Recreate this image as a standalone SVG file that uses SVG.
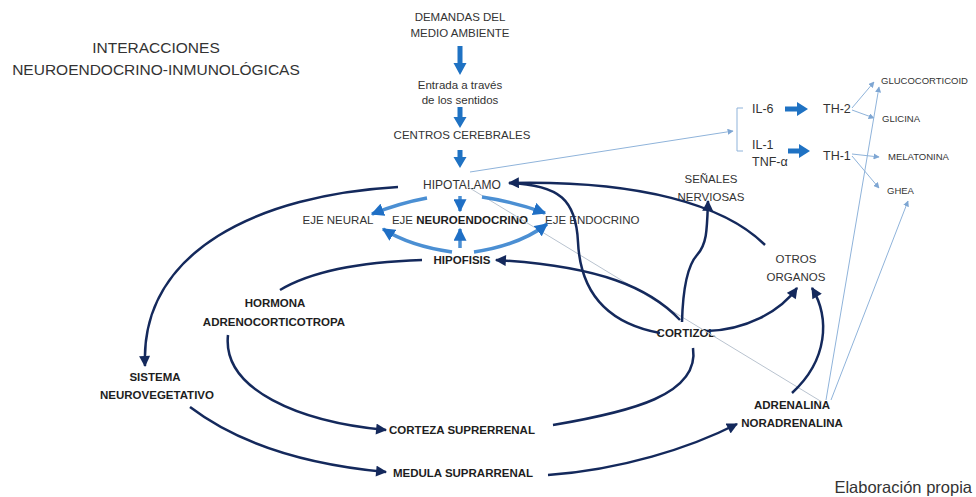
<svg xmlns="http://www.w3.org/2000/svg" width="976" height="497" viewBox="0 0 976 497">
<style>
text{font-family:"Liberation Sans",Arial,sans-serif;fill:#333;font-size:11.5px}
.c{text-anchor:middle}
.b{font-weight:bold;fill:#1e1e1e}
.title{font-size:15.5px;fill:#333}
.sm{font-size:9.5px}
.il{font-size:12.5px}
.navy{fill:none;stroke:#14295c;stroke-width:2.5}
.lblue{fill:none;stroke:#4b8fd3;stroke-width:3.5}
.thin{fill:none;stroke:#8fb3da;stroke-width:1}
.gray{fill:none;stroke:#b9c3cf;stroke-width:1}
.big{fill:#1f72c3}
</style>
<defs>
<marker id="mNavy" viewBox="0 0 10 10" refX="9" refY="5" markerWidth="12" markerHeight="11" markerUnits="userSpaceOnUse" orient="auto"><path d="M0,0 L10,5 L0,10 z" fill="#14295c"/></marker>
<marker id="mBlue" viewBox="0 0 10 10" refX="9" refY="5" markerWidth="13" markerHeight="13" markerUnits="userSpaceOnUse" orient="auto"><path d="M0,0 L10,5 L0,10 z" fill="#1f6fc5"/></marker>
<marker id="mThin" viewBox="0 0 10 10" refX="9" refY="5" markerWidth="6" markerHeight="6" markerUnits="userSpaceOnUse" orient="auto"><path d="M0,0 L10,5 L0,10 z" fill="#7ea6d3"/></marker>
</defs>
<rect width="976" height="497" fill="#fff"/>

<g id="title">
<text class="c title" x="156" y="53">INTERACCIONES</text>
<text class="c title" x="156" y="75">NEUROENDOCRINO-INMUNOLÓGICAS</text>
</g>
<g id="demandas"><text class="c" x="460" y="21">DEMANDAS DEL</text><text class="c" x="460" y="37">MEDIO AMBIENTE</text></g>
<g id="entrada"><text class="c" x="460" y="89">Entrada a través</text><text class="c" x="460" y="104">de los sentidos</text></g>
<g id="centros"><text class="c" x="462" y="139">CENTROS CEREBRALES</text></g>
<g id="hipotalamo"><text class="c" x="462" y="189" style="font-size:12px">HIPOTALAMO</text></g>
<g id="eje-neural"><text class="c" x="338" y="224">EJE NEURAL</text></g>
<g id="eje-neuroendocrino"><text class="c" x="460" y="224">EJE <tspan class="b">NEUROENDOCRINO</tspan></text></g>
<g id="eje-endocrino"><text x="545" y="224">EJE ENDOCRINO</text></g>
<g id="hipofisis"><text class="c b" x="462" y="264">HIPOFISIS</text></g>
<g id="senales"><text class="c" x="711" y="183">SEÑALES</text><text class="c" x="711" y="201">NERVIOSAS</text></g>
<g id="otros"><text class="c" x="796" y="263">OTROS</text><text class="c" x="796" y="281">ORGANOS</text></g>
<g id="cortizol"><text class="c b" x="686" y="337">CORTIZOL</text></g>
<g id="hormona"><text class="c b" x="275" y="307">HORMONA</text><text class="c b" x="274" y="326">ADRENOCORTICOTROPA</text></g>
<g id="sistema"><text class="c b" x="155" y="381">SISTEMA</text><text class="c b" x="157" y="399">NEUROVEGETATIVO</text></g>
<g id="corteza"><text class="c b" x="462" y="434">CORTEZA SUPRERRENAL</text></g>
<g id="medula"><text class="c b" x="463" y="477">MEDULA SUPRARRENAL</text></g>
<g id="adrenalina"><text class="c b" x="792" y="409">ADRENALINA</text><text class="c b" x="792" y="427">NORADRENALINA</text></g>
<g id="il6"><text class="il" x="752" y="113">IL-6</text></g>
<g id="il1"><text class="il" x="752" y="149">IL-1</text><text class="il" x="752" y="166">TNF-α</text></g>
<g id="th2"><text class="il" x="823" y="113">TH-2</text></g>
<g id="th1"><text class="il" x="823" y="160">TH-1</text></g>
<g id="gluco"><text class="sm" x="881" y="84">GLUCOCORTICOID</text></g>
<g id="glicina"><text class="sm" x="882" y="122">GLICINA</text></g>
<g id="melatonina"><text class="sm" x="888" y="160">MELATONINA</text></g>
<g id="ghea"><text class="sm" x="887" y="194">GHEA</text></g>
<g id="credit"><text x="972" y="493" style="font-size:16.5px;text-anchor:end;fill:#333">Elaboración propia</text></g>

<g id="connectors">
<path class="big" d="M457.5,46 H462.5 V63 H466.5 L460,75 L453.5,63 H457.5 Z"/>
<path class="big" d="M457.5,107 H462.5 V117 H466.5 L460,128 L453.5,117 H457.5 Z"/>
<path class="big" d="M457.5,150 H462.5 V157 H466.5 L460,168 L453.5,157 H457.5 Z"/>
<path class="big" d="M785,106.5 H797 V102 L808,109 L797,116 V111.5 H785 Z"/>
<path class="big" d="M788,148.5 H799 V144 L810,151 L799,158 V153.5 H788 Z"/>

<path class="thin" d="M743,108 H737 V151 H743"/>
<path class="thin" d="M470,172 L733,131" marker-end="url(#mThin)"/>
<path class="gray" d="M468,187 L822,402"/>
<path class="thin" d="M852,108 L874,82" marker-end="url(#mThin)"/>
<path class="thin" d="M852,110 L874,118" marker-end="url(#mThin)"/>
<path class="thin" d="M852,154 L879,157" marker-end="url(#mThin)"/>
<path class="thin" d="M852,156 L879,188" marker-end="url(#mThin)"/>
<path class="thin" d="M826,400 L879,87" marker-end="url(#mThin)"/>
<path class="thin" d="M831,400 L908,201" marker-end="url(#mThin)"/>

<path class="lblue" d="M427,198 Q400,203 372,214" marker-end="url(#mBlue)"/>
<path class="lblue" d="M460,196 L460,211" marker-end="url(#mBlue)"/>
<path class="lblue" d="M482,197 Q515,202 545,213" marker-end="url(#mBlue)"/>
<path class="lblue" d="M452,252 Q410,246 383,229" marker-end="url(#mBlue)"/>
<path class="lblue" d="M460,248 L460,229" marker-end="url(#mBlue)"/>
<path class="lblue" d="M474,252 Q520,245 547,224" marker-end="url(#mBlue)"/>

<path class="navy" d="M398,187 C260,195 140,250 145,366" marker-end="url(#mNavy)"/>
<path class="navy" d="M422,260 C360,262 310,272 280,290"/>
<path class="navy" d="M228,335 C222,390 300,422 386,430" marker-end="url(#mNavy)"/>
<path class="navy" d="M190,407 C240,445 310,465 386,472" marker-end="url(#mNavy)"/>
<path class="navy" d="M553,425 C630,412 700,395 693,348"/>
<path class="navy" d="M548,475 C620,470 690,448 737,424" marker-end="url(#mNavy)"/>
<path class="navy" d="M682,322 C683,285 688,265 697,255 C707,244 707,230 708,201" marker-end="url(#mNavy)"/>
<path class="navy" d="M707,331 C745,330 780,312 797,288" marker-end="url(#mNavy)"/>
<path class="navy" d="M792,393 C828,360 830,318 812,288" marker-end="url(#mNavy)"/>
<path class="navy" d="M765,245 C725,205 640,180 509,183" marker-end="url(#mNavy)"/>
<path class="navy" d="M660,333 C600,322 580,285 578,242 C576,200 560,185 509,183"/>
<path class="navy" d="M680,320 C650,288 600,266 496,260" marker-end="url(#mNavy)"/>
</g>
</svg>
